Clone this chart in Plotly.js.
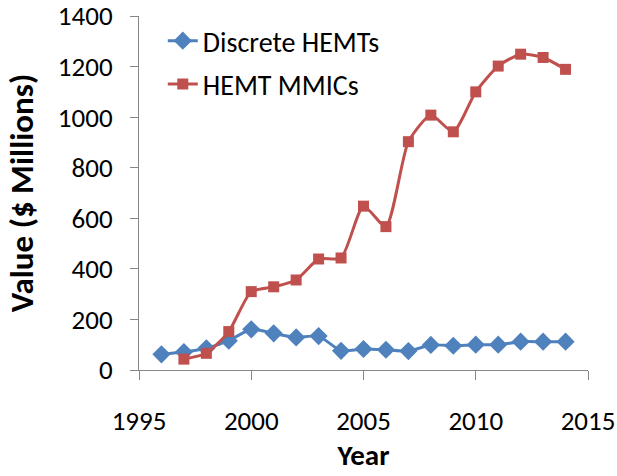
<!DOCTYPE html>
<html>
<head>
<meta charset="utf-8">
<script src="https://cdn.plot.ly/plotly-3.0.1.min.js"></script>
<style>html,body{margin:0;padding:0;background:#fff;}#chart{width:617px;height:476px;}</style>
</head>
<body>
<div id="chart"></div>
<script>
const yearsDiscrete = [1996,1997,1998,1999,2000,2001,2002,2003,2004,2005,2006,2007,2008,2009,2010,2011,2012,2013,2014];
const discreteHEMTs = [62,71,86,116,161,145,129,134,76,83,80,75,99,96,100,100,112,112,112];
const yearsMMIC = [1997,1998,1999,2000,2001,2002,2003,2004,2005,2006,2007,2008,2009,2010,2011,2012,2013,2014];
const hemtMMICs = [43,66,152,310,329,356,439,443,648,567,903,1008,942,1100,1202,1249,1236,1189];
const seriesNames = ["Discrete HEMTs", "HEMT MMICs"];
const xTicks = [1995,2000,2005,2010,2015];
const yTicks = [0,200,400,600,800,1000,1200,1400];

const FONT = "Carlito, Calibri, Lato, sans-serif";
const axisGray = "#868686";

const traces = [
  {
    x: yearsDiscrete, y: discreteHEMTs, name: seriesNames[0],
    type: "scatter", mode: "lines+markers",
    line: {color: "#4F81BD", width: 3, shape: "spline", smoothing: 0.6},
    marker: {symbol: "diamond", size: 14, color: "#4F81BD"},
    legendgroup: "a"
  },
  {
    x: yearsMMIC, y: hemtMMICs, name: seriesNames[1],
    type: "scatter", mode: "lines+markers",
    line: {color: "#C0504D", width: 3, shape: "spline", smoothing: 0.6},
    marker: {symbol: "square", size: 11, color: "#C0504D"},
    legendgroup: "b"
  }
];

const layout = {
  width: 617, height: 476,
  margin: {l: 139, r: 29, t: 16, b: 106},
  paper_bgcolor: "#fff", plot_bgcolor: "#fff",
  font: {family: FONT, size: 27, color: "#000"},
  showlegend: true,
  legend: {
    x: 0.053, y: 1.0, xanchor: "left", yanchor: "top",
    font: {family: FONT, size: 28, color: "#000"},
    bgcolor: "rgba(0,0,0,0)", tracegroupgap: 4, traceorder: "grouped"
  },
  xaxis: {
    range: [1995, 2015], tickvals: xTicks, ticktext: xTicks.map(String),
    showgrid: false, zeroline: false, showline: true, linecolor: axisGray, linewidth: 1,
    ticks: "outside", ticklen: 9, tickcolor: axisGray, tickwidth: 1,
    ticklabelstandoff: 18, ticklabeloverflow: "allow",
    tickfont: {family: FONT, size: 27, color: "#000"},
    title: {text: "<b>Year</b>", font: {family: FONT, size: 29, color: "#000"}, standoff: 6}
  },
  yaxis: {
    range: [0, 1400], tickvals: yTicks, ticktext: yTicks.map(String),
    showgrid: false, zeroline: false, showline: true, linecolor: axisGray, linewidth: 1,
    ticks: "outside", ticklen: 8, tickcolor: axisGray, tickwidth: 1,
    ticklabelstandoff: 12, ticklabeloverflow: "allow",
    tickfont: {family: FONT, size: 27, color: "#000"},
    title: {text: "<b>Value ($ Millions)</b>", font: {family: FONT, size: 33, color: "#000"}, standoff: 14}
  }
};

Plotly.newPlot("chart", traces, layout, {displayModeBar: false, staticPlot: true});
</script>
</body>
</html>
